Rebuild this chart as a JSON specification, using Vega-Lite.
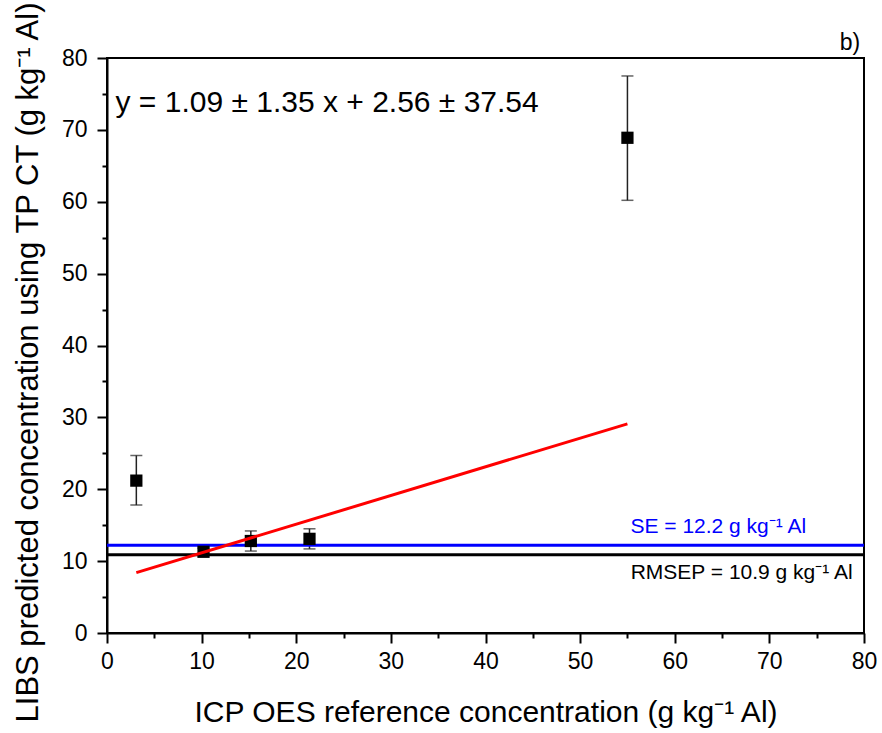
{
  "$schema": "https://vega.github.io/schema/vega-lite/v6.json",
  "width": 757,
  "height": 575,
  "autosize": {"type": "none"},
  "padding": {"left": 107, "top": 58, "right": 18, "bottom": 100},
  "background": "white",
  "config": {
    "font": "Liberation Sans",
    "view": {"stroke": "black", "strokeWidth": 2},
    "axis": {
      "grid": false,
      "domainColor": "black",
      "domainWidth": 2,
      "tickColor": "black",
      "tickWidth": 2,
      "labelColor": "black",
      "titleColor": "black",
      "labelFont": "Liberation Sans",
      "titleFont": "Liberation Sans",
      "titleFontWeight": "normal"
    }
  },
  "resolve": {"axis": {"x": "independent", "y": "independent"}},
  "datasets": {
    "pts": [
      {"ref": 3.1, "pred": 21.2, "lo": 17.8, "hi": 24.7},
      {"ref": 10.2, "pred": 11.3, "lo": 10.8, "hi": 11.8},
      {"ref": 15.2, "pred": 12.8, "lo": 11.4, "hi": 14.2},
      {"ref": 21.4, "pred": 13.1, "lo": 11.7, "hi": 14.5},
      {"ref": 55.0, "pred": 68.9, "lo": 60.2, "hi": 77.5}
    ],
    "fit": [{"x1": 3.1, "y1": 8.4, "x2": 55.0, "y2": 29.1}],
    "hlines": [
      {"name": "SE", "val": 12.2, "col": "#0000ff"},
      {"name": "RMSEP", "val": 10.9, "col": "#000000"}
    ],
    "labels": [
      {"tx": 0.9, "ty": 73.8, "txt": "y = 1.09 ± 1.35 x + 2.56 ± 37.54", "kind": "eq"},
      {"tx": 64.6, "ty": 14.8, "txt": "SE = 12.2 g kg⁻¹ Al", "kind": "se"},
      {"tx": 78.8, "ty": 8.4, "txt": "RMSEP = 10.9 g kg⁻¹ Al", "kind": "rmsep"},
      {"tx": 79.6, "ty": 82.1, "txt": "b)", "kind": "b"}
    ]
  },
  "layer": [
    {
      "data": {"name": "pts"},
      "mark": {"type": "rule", "color": "#222222", "strokeWidth": 1.5},
      "encoding": {
        "x": {
          "field": "ref", "type": "quantitative",
          "scale": {"domain": [0, 80], "nice": false, "zero": false},
          "axis": {
            "title": "ICP OES reference concentration (g kg⁻¹ Al)",
            "orient": "bottom",
            "values": [0, 10, 20, 30, 40, 50, 60, 70, 80],
            "tickSize": 10,
            "labelFontSize": 23,
            "labelPadding": 7,
            "titleFontSize": 30,
            "titlePadding": 24,
            "labelFlush": false
          }
        },
        "y": {
          "field": "lo", "type": "quantitative",
          "scale": {"domain": [0, 80], "nice": false, "zero": false},
          "axis": {
            "title": "LIBS predicted concentration using TP CT (g kg⁻¹ Al)",
            "orient": "left",
            "values": [0, 10, 20, 30, 40, 50, 60, 70, 80],
            "tickSize": 10,
            "labelFontSize": 23,
            "labelPadding": 10,
            "titleFontSize": 31,
            "titlePadding": 17,
            "titleY": 304,
            "labelFlush": false
          }
        },
        "y2": {"field": "hi"}
      }
    },
    {
      "data": {"name": "pts"},
      "mark": {"type": "tick", "orient": "horizontal", "color": "#222222", "size": 12, "thickness": 1.5},
      "encoding": {
        "x": {
          "field": "ref", "type": "quantitative",
          "axis": {"orient": "bottom", "values": [5, 15, 25, 35, 45, 55, 65, 75], "tickSize": 5, "labels": false, "title": null, "domain": false}
        },
        "y": {
          "field": "hi", "type": "quantitative",
          "axis": {"orient": "left", "values": [5, 15, 25, 35, 45, 55, 65, 75], "tickSize": 5, "labels": false, "title": null, "domain": false}
        }
      }
    },
    {
      "data": {"name": "pts"},
      "mark": {"type": "tick", "orient": "horizontal", "color": "#222222", "size": 12, "thickness": 1.5},
      "encoding": {
        "x": {"field": "ref", "type": "quantitative", "axis": null},
        "y": {"field": "lo", "type": "quantitative", "axis": null}
      }
    },
    {
      "data": {"name": "hlines"},
      "mark": {"type": "rule", "strokeWidth": 3},
      "encoding": {
        "y": {"field": "val", "type": "quantitative", "axis": null},
        "color": {"field": "col", "type": "nominal", "scale": null}
      }
    },
    {
      "data": {"name": "pts"},
      "mark": {"type": "point", "shape": "square", "filled": true, "color": "black", "size": 150, "opacity": 1},
      "encoding": {
        "x": {"field": "ref", "type": "quantitative", "axis": null},
        "y": {"field": "pred", "type": "quantitative", "axis": null}
      }
    },
    {
      "data": {"name": "fit"},
      "mark": {"type": "rule", "color": "#ff0000", "strokeWidth": 3},
      "encoding": {
        "x": {"field": "x1", "type": "quantitative", "axis": null},
        "y": {"field": "y1", "type": "quantitative", "axis": null},
        "x2": {"field": "x2"},
        "y2": {"field": "y2"}
      }
    },
    {
      "data": {"name": "labels"},
      "transform": [{"filter": "datum.kind == 'eq'"}],
      "mark": {"type": "text", "align": "left", "baseline": "middle", "fontSize": 30, "color": "black", "font": "Liberation Sans"},
      "encoding": {
        "x": {"field": "tx", "type": "quantitative", "axis": null},
        "y": {"field": "ty", "type": "quantitative", "axis": null},
        "text": {"field": "txt"}
      }
    },
    {
      "data": {"name": "labels"},
      "transform": [{"filter": "datum.kind == 'se'"}],
      "mark": {"type": "text", "align": "center", "baseline": "middle", "fontSize": 21, "color": "#0000ff", "font": "Liberation Sans"},
      "encoding": {
        "x": {"field": "tx", "type": "quantitative", "axis": null},
        "y": {"field": "ty", "type": "quantitative", "axis": null},
        "text": {"field": "txt"}
      }
    },
    {
      "data": {"name": "labels"},
      "transform": [{"filter": "datum.kind == 'rmsep'"}],
      "mark": {"type": "text", "align": "right", "baseline": "middle", "fontSize": 21, "color": "black", "font": "Liberation Sans"},
      "encoding": {
        "x": {"field": "tx", "type": "quantitative", "axis": null},
        "y": {"field": "ty", "type": "quantitative", "axis": null},
        "text": {"field": "txt"}
      }
    },
    {
      "data": {"name": "labels"},
      "transform": [{"filter": "datum.kind == 'b'"}],
      "mark": {"type": "text", "align": "right", "baseline": "middle", "fontSize": 23, "color": "black", "font": "Liberation Sans"},
      "encoding": {
        "x": {"field": "tx", "type": "quantitative", "axis": null},
        "y": {"field": "ty", "type": "quantitative", "axis": null},
        "text": {"field": "txt"}
      }
    }
  ]
}
